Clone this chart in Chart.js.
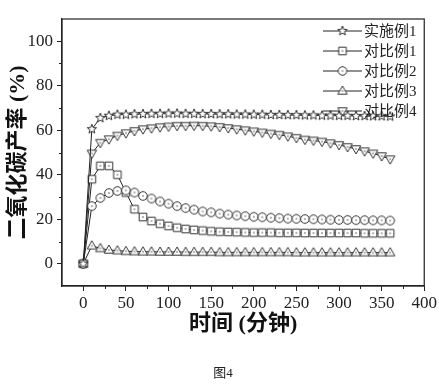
<!DOCTYPE html>
<html>
<head>
<meta charset="utf-8">
<script src="https://cdn.jsdelivr.net/npm/chart.js@4.4.0/dist/chart.umd.min.js"></script>
<style>
html,body{margin:0;padding:0;background:#fff;}
#c{display:block;}
</style>
</head>
<body>
<canvas id="c" width="439" height="387"></canvas>
<script>
// ---- data ----
const times = [0,10,20,30,40,50,60,70,80,90,100,110,120,130,140,150,160,170,180,190,200,210,220,230,240,250,260,270,280,290,300,310,320,330,340,350,360];
const seriesNames = ['实施例1','对比例1','对比例2','对比例3','对比例4'];
const example1 = [0,60.5,65.5,66.5,67,67,67.2,67.3,67.4,67.4,67.5,67.5,67.4,67.4,67.3,67.3,67.2,67.2,67.1,67.1,67.0,67.0,66.9,66.9,66.8,66.8,66.7,66.7,66.6,66.6,66.5,66.5,66.4,66.4,66.3,66.3,66.2];
const compare1 = [0,38,44,44,40,32,24.5,21,19.2,18,17,16.2,15.6,15.2,14.9,14.6,14.4,14.3,14.2,14.1,14.0,14.0,14.0,13.9,13.9,13.9,13.8,13.8,13.8,13.8,13.8,13.8,13.8,13.7,13.7,13.7,13.7];
const compare2 = [0,25.9,29.6,31.8,32.7,33,32,30.5,29.3,28,27,25.9,25,24.3,23.5,23.1,22.5,22.1,21.7,21.4,21.1,20.9,20.7,20.5,20.3,20.2,20.1,20,19.9,19.8,19.7,19.7,19.6,19.6,19.5,19.5,19.4];
const compare3 = [0,8.1,6.9,6.2,5.9,5.6,5.5,5.4,5.4,5.3,5.3,5.3,5.2,5.2,5.2,5.2,5.1,5.1,5.1,5.1,5.1,5.1,5.1,5.1,5.1,5.0,5.0,5.0,5.0,5.0,5.0,5.0,5.0,5.0,5.0,5.0,5.0];
const compare4 = [0,49.6,54.4,56,57.6,58.7,59.7,60.5,60.9,61.4,61.7,62,62,62.1,62,61.8,61.5,61,60.5,60,59.5,59,58.5,58,57.3,56.6,55.8,55.4,54.9,54.2,53.4,52.5,51.6,50.6,49.6,48.4,47];
const xTickValues = [0,50,100,150,200,250,300,350,400];
const yTickValues = [0,20,40,60,80,100];
const xMinorValues = [25,75,125,175,225,275,325,375];
const yMinorValues = [10,30,50,70,90];
const xTitle = '时间 (分钟)';
const yTitle = '二氧化碳产率 (%)';
const figCaption = '图4';

// ---- marker images ----
const FONT = "'Liberation Serif', 'Noto Sans CJK SC', serif";
function marker(shape){
  const s = 14;
  const c = document.createElement('canvas');
  c.width = s; c.height = s;
  const g = c.getContext('2d');
  g.translate(s/2, s/2);
  g.strokeStyle = '#333'; g.fillStyle = '#fff'; g.lineWidth = 1;
  g.beginPath();
  if (shape === 'star') {
    for (let i = 0; i < 10; i++) {
      const r = i % 2 === 0 ? 5 : 2.1;
      const a = -Math.PI/2 + i * Math.PI/5;
      const px = r*Math.cos(a), py = r*Math.sin(a);
      if (i === 0) g.moveTo(px, py); else g.lineTo(px, py);
    }
    g.closePath();
  } else if (shape === 'square') {
    g.rect(-3.8, -3.8, 7.6, 7.6);
  } else if (shape === 'circle') {
    g.arc(0, 0, 4.3, 0, Math.PI*2);
  } else if (shape === 'up') {
    g.moveTo(0, -5); g.lineTo(4.7, 3.2); g.lineTo(-4.7, 3.2); g.closePath();
  } else if (shape === 'down') {
    g.moveTo(0, 5); g.lineTo(4.7, -3.2); g.lineTo(-4.7, -3.2); g.closePath();
  }
  g.fill(); g.stroke();
  if (shape !== 'star') { g.fillStyle = '#666'; g.fillRect(-0.7, -0.7, 1.4, 1.4); }
  return c;
}
const markers = [marker('star'), marker('square'), marker('circle'), marker('up'), marker('down')];
const seriesData = [example1, compare1, compare2, compare3, compare4];
const drawOrder = [1, 3, 2, 4, 5];

const datasets = seriesNames.map((name, i) => ({
  label: name,
  data: times.map((t, k) => ({x: t, y: seriesData[i][k]})),
  borderColor: '#222',
  borderWidth: 1,
  backgroundColor: '#fff',
  pointStyle: markers[i],
  pointRadius: 5,
  tension: 0,
  order: drawOrder[i]
}));

// ---- plugins ----
const framePlugin = {
  id: 'frame',
  afterDraw(chart) {
    const ctx = chart.ctx;
    const {left, right, top, bottom} = chart.chartArea;
    const xs = chart.scales.x, ys = chart.scales.y;
    ctx.save();
    ctx.strokeStyle = '#222';
    ctx.lineWidth = 1.2;
    ctx.strokeRect(left, top, right - left, bottom - top);
    ctx.lineWidth = 1;
    ctx.beginPath();
    xMinorValues.forEach(v => {
      const px = Math.round(xs.getPixelForValue(v)) + 0.5;
      ctx.moveTo(px, bottom); ctx.lineTo(px, bottom + 3);
    });
    yMinorValues.forEach(v => {
      const py = Math.round(ys.getPixelForValue(v)) + 0.5;
      ctx.moveTo(left, py); ctx.lineTo(left - 3, py);
    });
    ctx.stroke();
    // legend
    const lx0 = 323, lx1 = 362, ly0 = 31, step = 20;
    ctx.font = '15px ' + FONT;
    ctx.textBaseline = 'middle';
    ctx.textAlign = 'left';
    ctx.fillStyle = '#222';
    chart.data.datasets.forEach((ds, i) => {
      const y = ly0 + i * step;
      ctx.beginPath();
      ctx.strokeStyle = '#222';
      ctx.lineWidth = 1;
      ctx.moveTo(lx0, y); ctx.lineTo(lx1, y);
      ctx.stroke();
      const img = ds.pointStyle;
      ctx.drawImage(img, (lx0 + lx1)/2 - img.width/2, y - img.height/2);
      ctx.fillText(ds.label, lx1 + 2, y + 1);
    });
    // caption
    ctx.font = '13px ' + FONT;
    ctx.textAlign = 'center';
    ctx.fillText(figCaption, 223, 374);
    ctx.restore();
  }
};

new Chart(document.getElementById('c'), {
  type: 'line',
  data: { datasets },
  options: {
    responsive: false,
    animation: false,
    devicePixelRatio: 1,
    layout: { padding: { left: 0, right: 14, top: 19, bottom: 31 } },
    plugins: { legend: { display: false }, tooltip: { enabled: false } },
    scales: {
      x: {
        type: 'linear', min: -25, max: 400,
        afterBuildTicks: s => { s.ticks = xTickValues.map(v => ({value: v})); },
        afterFit: s => { s.height = 70; },
        ticks: { font: { family: FONT, size: 17 }, color: '#222', padding: 2, maxRotation: 0, autoSkip: false },
        grid: { drawOnChartArea: false, tickLength: 5, tickColor: '#222', tickWidth: 1 },
        border: { color: '#222', width: 1.2 },
        title: { display: true, text: xTitle, color: '#111', font: { family: FONT, size: 22, weight: 'bold' }, padding: { top: 0, bottom: 18 } }
      },
      y: {
        type: 'linear', min: -10, max: 110,
        afterBuildTicks: s => { s.ticks = yTickValues.map(v => ({value: v})); },
        afterFit: s => { s.width = 62; },
        ticks: { font: { family: FONT, size: 17 }, color: '#222', padding: 4 },
        grid: { drawOnChartArea: false, tickLength: 5, tickColor: '#222', tickWidth: 1 },
        border: { color: '#222', width: 1.2 },
        title: { display: true, text: yTitle, color: '#111', font: { family: FONT, size: 22, weight: 'bold' }, padding: { top: 5, bottom: 0 } }
      }
    }
  },
  plugins: [framePlugin]
});
</script>
</body>
</html>
